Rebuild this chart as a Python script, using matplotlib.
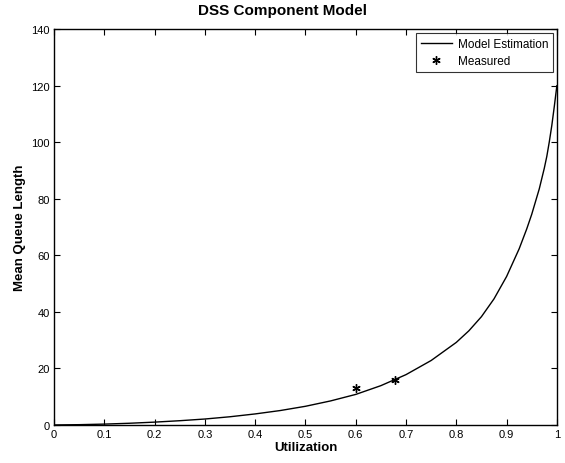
import numpy as np
import matplotlib
matplotlib.use('Agg')
import matplotlib.pyplot as plt
from matplotlib.ticker import FixedLocator

plt.rcParams['font.family'] = ['Liberation Sans', 'DejaVu Sans']

# Model estimation curve
util = [0.0, 0.05, 0.1, 0.15, 0.2, 0.25, 0.3, 0.35, 0.4, 0.45, 0.5, 0.55,
        0.6, 0.65, 0.7, 0.75, 0.8, 0.825, 0.85, 0.875, 0.9, 0.925, 0.94,
        0.95, 0.965, 0.975, 0.98, 0.985, 0.99, 0.995, 1.0]
queue = [0.0, 0.1, 0.3, 0.6, 1.0, 1.5, 2.1, 2.9, 3.9, 5.1, 6.6, 8.5,
         10.8, 13.9, 17.8, 22.8, 29.2, 33.3, 38.3, 44.6, 52.5, 62.3, 69.3,
         74.5, 83.5, 90.8, 95.0, 100.2, 106.0, 112.8, 120.0]

# Measured points
meas_util = [0.60, 0.678]
meas_queue = [12.9, 15.8]

xticks = [0, 0.1, 0.2, 0.3, 0.4, 0.5, 0.6, 0.7, 0.8, 0.9, 1]
xlabels = ['0', '0.1', '0.2', '0.3', '0.4', '0.5', '0.6', '0.7', '0.8', '0.9', '1']
yticks = [0, 20, 40, 60, 80, 100, 120, 140]

fig = plt.figure(figsize=(5.65, 4.64), dpi=100)
ax = fig.add_axes([0.0956, 0.082, 0.890, 0.853])

ax.plot(util, queue, 'k-', linewidth=1.0, label='Model Estimation')
ax.plot(meas_util, meas_queue, linestyle='none', marker=(6, 2, 0),
        markersize=6, color='k', markeredgewidth=1.0, label='Measured')

ax.set_xlim(0, 1)
ax.set_ylim(0, 140)
ax.xaxis.set_major_locator(FixedLocator(xticks))
ax.set_xticklabels(xlabels)
ax.yaxis.set_major_locator(FixedLocator(yticks))
ax.tick_params(direction='in', top=True, right=True, labelsize=8,
               length=4, width=0.8, pad=3)
for s in ax.spines.values():
    s.set_linewidth(1.0)

fig.suptitle('DSS Component Model', x=0.5, y=0.992, va='top',
             fontsize=11, fontweight='bold')
ax.set_xlabel('Utilization', fontsize=9.5, fontweight='bold', labelpad=1)
ax.set_ylabel('Mean Queue Length', fontsize=9.5, fontweight='bold', labelpad=4)

leg = ax.legend(loc='upper right', fontsize=8.5, frameon=True, fancybox=False,
                edgecolor='k', handlelength=2.6, borderaxespad=0.3,
                borderpad=0.45, labelspacing=0.4, handletextpad=0.5)
leg.get_frame().set_linewidth(0.8)

fig.savefig('out.png', dpi=100)
